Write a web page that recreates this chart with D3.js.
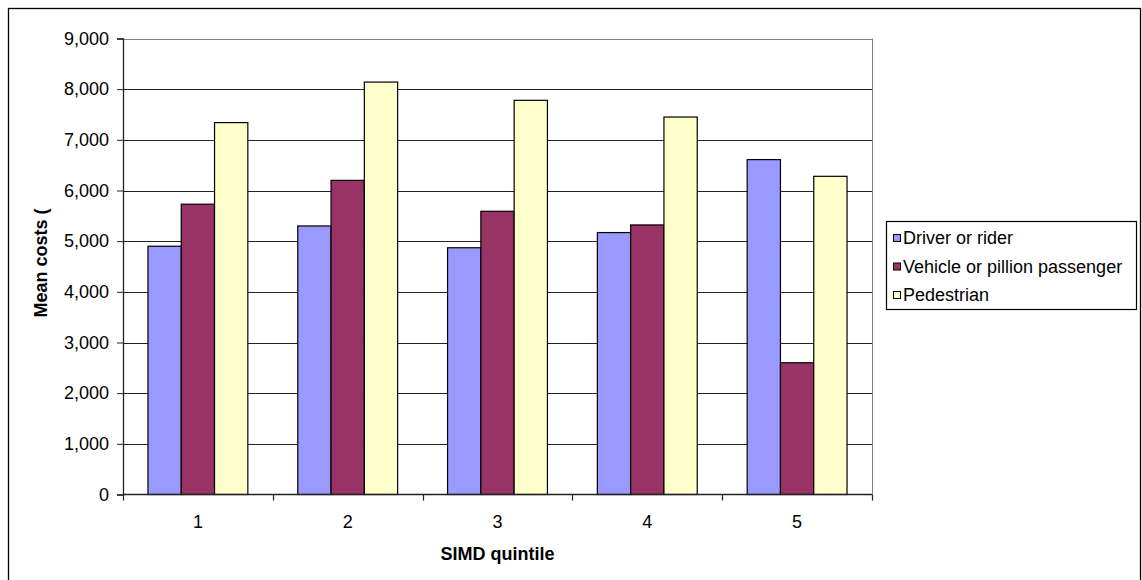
<!DOCTYPE html>
<html>
<head>
<meta charset="utf-8">
<script src="https://cdn.jsdelivr.net/npm/d3@7"></script>
<style>
  body { margin: 0; background: #fff; }
  text { font-family: "Liberation Sans", Arial, sans-serif; }
</style>
</head>
<body>
<svg id="chart"></svg>
<script>
// values
const quintiles = ["1", "2", "3", "4", "5"];
const seriesNames = ["Driver or rider", "Vehicle or pillion passenger", "Pedestrian"];
const driverCosts = [4900, 5300, 4870, 5170, 6610];
const vehicleCosts = [5730, 6200, 5590, 5320, 2600];
const pedestrianCosts = [7340, 8140, 7780, 7450, 6280];
const seriesColors = ["#9999ff", "#993366", "#ffffcc"];
const yTicks = [0, 1000, 2000, 3000, 4000, 5000, 6000, 7000, 8000, 9000];

const W = 1142, H = 580;
const plot = { left: 123, top: 38.5, right: 872, bottom: 494.5 };

const svg = d3.select("#chart").attr("width", W).attr("height", H);

// outer chart border
svg.append("rect")
  .attr("x", 8.5).attr("y", 8.5)
  .attr("width", 1132).attr("height", 600)
  .attr("fill", "none").attr("stroke", "#000").attr("stroke-width", 1.3);

const x0 = d3.scaleBand()
  .domain(quintiles)
  .range([plot.left, plot.right])
  .paddingInner(1 / 3)
  .paddingOuter(1 / 6);

const x1 = d3.scaleBand()
  .domain(seriesNames)
  .range([0, x0.bandwidth()]);

const y = d3.scaleLinear()
  .domain([0, 9000])
  .range([plot.bottom, plot.top]);

// gridlines
svg.append("g")
  .selectAll("line")
  .data(yTicks.filter(d => d > 0))
  .join("line")
    .attr("x1", plot.left).attr("x2", plot.right)
    .attr("y1", d => Math.round(y(d)) + 0.5)
    .attr("y2", d => Math.round(y(d)) + 0.5)
    .attr("stroke", d => d === 9000 ? "#808080" : "#222")
    .attr("stroke-width", 1);

// plot area right border
svg.append("line")
  .attr("x1", plot.right + 0.5).attr("x2", plot.right + 0.5)
  .attr("y1", plot.top).attr("y2", plot.bottom)
  .attr("stroke", "#808080");

// bars
const rows = quintiles.map((q, i) => ({
  q: q,
  vals: [driverCosts[i], vehicleCosts[i], pedestrianCosts[i]]
}));

svg.append("g")
  .selectAll("g")
  .data(rows)
  .join("g")
    .attr("transform", d => `translate(${x0(d.q)},0)`)
  .selectAll("rect")
  .data(d => d.vals.map((v, j) => ({ name: seriesNames[j], v: v, c: seriesColors[j] })))
  .join("rect")
    .attr("x", d => x1(d.name))
    .attr("y", d => y(d.v))
    .attr("width", x1.bandwidth())
    .attr("height", d => y(0) - y(d.v))
    .attr("fill", d => d.c)
    .attr("stroke", "#000")
    .attr("stroke-width", 1.2);

// y axis
const yAxis = d3.axisLeft(y)
  .tickValues(yTicks)
  .tickSize(6)
  .tickPadding(8)
  .tickFormat(d3.format(","));

const yg = svg.append("g")
  .attr("transform", `translate(${plot.left},0)`)
  .call(yAxis);
yg.select(".domain").attr("stroke", "#222").attr("stroke-width", 1.3);
yg.selectAll(".tick line").attr("stroke", "#222");
yg.selectAll("text").attr("font-size", 18).attr("fill", "#000")
  .attr("font-family", "Liberation Sans, Arial, sans-serif");

// x axis - ticks at category boundaries
const boundaries = d3.range(quintiles.length + 1).map(i => plot.left + i * x0.step());
svg.append("line")
  .attr("x1", plot.left).attr("x2", plot.right)
  .attr("y1", plot.bottom).attr("y2", plot.bottom)
  .attr("stroke", "#222").attr("stroke-width", 1.5);
svg.append("g")
  .selectAll("line")
  .data(boundaries)
  .join("line")
    .attr("x1", d => Math.round(d) + 0.5).attr("x2", d => Math.round(d) + 0.5)
    .attr("y1", plot.bottom).attr("y2", plot.bottom + 6)
    .attr("stroke", "#222").attr("stroke-width", 1.2);

svg.append("g")
  .selectAll("text")
  .data(quintiles)
  .join("text")
    .attr("x", d => x0(d) + x0.bandwidth() / 2)
    .attr("y", 528)
    .attr("text-anchor", "middle")
    .attr("font-size", 18)
    .text(d => d);

// axis titles
svg.append("text")
  .attr("x", (plot.left + plot.right) / 2)
  .attr("y", 560)
  .attr("text-anchor", "middle")
  .attr("font-size", 18)
  .attr("font-weight", "bold")
  .text("SIMD quintile");

svg.append("text")
  .attr("transform", "translate(47,263) rotate(-90)")
  .attr("text-anchor", "middle")
  .attr("font-size", 18)
  .attr("font-weight", "bold")
  .text("Mean costs (");

// legend
const legend = svg.append("g");
legend.append("rect")
  .attr("x", 886.5).attr("y", 221.5)
  .attr("width", 250).attr("height", 88)
  .attr("fill", "#fff").attr("stroke", "#000").attr("stroke-width", 1.2);

const items = legend.selectAll("g")
  .data(seriesNames)
  .join("g")
    .attr("transform", (d, i) => `translate(893.5,${238 + i * 28.5})`);
items.append("rect")
  .attr("x", 0).attr("y", -3.5)
  .attr("width", 7).attr("height", 7)
  .attr("fill", (d, i) => seriesColors[i])
  .attr("stroke", "#000");
items.append("text")
  .attr("x", 9.5).attr("y", 6)
  .attr("font-size", 18)
  .text(d => d);
</script>
</body>
</html>
